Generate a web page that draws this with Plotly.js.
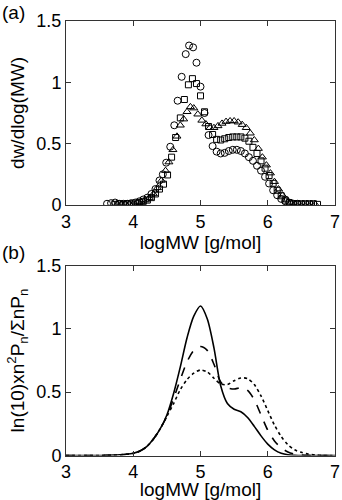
<!DOCTYPE html>
<html>
<head>
<meta charset="utf-8">
<script src="https://cdn.plot.ly/plotly-3.0.1.min.js"></script>
<style>html,body{margin:0;padding:0;background:#fff;}#chart{width:342px;height:500px;}</style>
</head>
<body>
<div id="chart"></div>
<script>
// ---- Panel (a): measured distributions ----
const circX = [3.61,3.67,3.73,3.79,3.85,3.91,3.97,4.03,4.09,4.15,4.21,4.27,4.33,4.39,4.44,4.49,4.55,4.61,4.66,4.72,4.78,4.83,4.89,4.94,5.00,5.06,5.12,5.18,5.24,5.30,5.36,5.42,5.48,5.54,5.60,5.66,5.72,5.78,5.84,5.90,5.96,6.02,6.08,6.14,6.20,6.26,6.32,6.38,6.44];
const circY = [0.01,0.015,0.02,0.01,0.01,0.01,0.015,0.02,0.03,0.045,0.06,0.09,0.13,0.2,0.25,0.345,0.475,0.65,0.85,1.045,1.23,1.30,1.285,1.16,0.965,0.75,0.57,0.48,0.435,0.42,0.425,0.44,0.45,0.45,0.44,0.42,0.39,0.36,0.32,0.28,0.23,0.175,0.12,0.08,0.05,0.03,0.02,0.01,0.01];

const sqX = [3.73,3.79,3.85,3.91,3.97,4.03,4.09,4.15,4.21,4.27,4.33,4.39,4.45,4.51,4.57,4.63,4.70,4.76,4.82,4.88,4.94,5.00,5.06,5.12,5.18,5.24,5.30,5.36,5.42,5.48,5.54,5.60,5.66,5.72,5.78,5.84,5.90,5.96,6.02,6.08,6.14,6.20,6.26,6.32,6.38,6.44,6.50,6.56,6.62,6.68,6.74];
const sqY = [0.005,0.01,0.005,0.01,0.01,0.015,0.02,0.03,0.04,0.06,0.09,0.13,0.17,0.245,0.39,0.55,0.71,0.86,0.98,1.03,0.99,0.89,0.76,0.64,0.575,0.535,0.53,0.54,0.55,0.555,0.555,0.555,0.545,0.52,0.47,0.42,0.36,0.30,0.24,0.177,0.12,0.075,0.04,0.02,0.01,0.01,0.01,0.01,0.01,0.01,0.005];

const triX = [3.76,3.82,3.88,3.94,4.00,4.06,4.12,4.18,4.24,4.30,4.36,4.42,4.48,4.53,4.59,4.65,4.70,4.75,4.80,4.85,4.90,4.96,5.02,5.08,5.14,5.20,5.26,5.32,5.38,5.44,5.50,5.56,5.62,5.68,5.74,5.80,5.86,5.92,5.98,6.04,6.10,6.16,6.22,6.28,6.34,6.40,6.46,6.52,6.58,6.64,6.70];
const triY = [0.005,0.005,0.01,0.01,0.01,0.02,0.025,0.04,0.06,0.09,0.14,0.2,0.28,0.35,0.45,0.56,0.65,0.70,0.76,0.80,0.79,0.74,0.69,0.66,0.63,0.63,0.645,0.665,0.68,0.685,0.685,0.675,0.655,0.63,0.585,0.53,0.46,0.39,0.325,0.26,0.19,0.13,0.08,0.045,0.02,0.01,0.01,0.01,0.01,0.01,0.01];

// ---- Panel (b): model distributions ----
const modelX = [3.0,3.1,3.2,3.3,3.4,3.5,3.6,3.7,3.8,3.9,4.0,4.1,4.2,4.3,4.4,4.5,4.6,4.7,4.8,4.9,5.0,5.1,5.2,5.3,5.4,5.5,5.6,5.7,5.8,5.9,6.0,6.1,6.2,6.3,6.4,6.5,6.6,6.7,6.8,6.9,7.0];
const solidY = [0,0,0,0,0,0,0.001,0.003,0.006,0.01,0.018,0.035,0.07,0.13,0.21,0.32,0.49,0.7,0.93,1.1,1.18,1.08,0.85,0.55,0.41,0.365,0.345,0.3,0.23,0.155,0.09,0.045,0.018,0.006,0.002,0,0,0,0,0,0];
const dashY  = [0,0,0,0,0,0,0.001,0.003,0.006,0.01,0.018,0.035,0.07,0.13,0.21,0.31,0.45,0.6,0.74,0.83,0.86,0.83,0.72,0.58,0.535,0.525,0.535,0.515,0.44,0.32,0.2,0.115,0.06,0.028,0.01,0.004,0.001,0,0,0,0];
const dotY   = [0,0,0,0,0,0,0.001,0.003,0.006,0.01,0.018,0.035,0.07,0.13,0.21,0.31,0.41,0.52,0.6,0.65,0.675,0.66,0.61,0.565,0.56,0.59,0.612,0.607,0.56,0.47,0.355,0.24,0.15,0.085,0.045,0.025,0.012,0.005,0.001,0,0];

const xTickVals = [3,4,5,6,7];
const yTickVals = [0,0.5,1,1.5];
const yTickText = ['0','0.5','1','1.5'];

const FONT = 'Liberation Sans, Arial, sans-serif';
const ink = '#000';

function mk(x, y, sym, size) {
  return {x: x, y: y, type: 'scatter', mode: 'markers', xaxis: 'x', yaxis: 'y',
    marker: {symbol: sym, size: size, color: ink, line: {color: ink, width: 1}},
    showlegend: false, hoverinfo: 'skip'};
}
function ln(y, dash) {
  return {x: modelX, y: y, type: 'scatter', mode: 'lines', xaxis: 'x2', yaxis: 'y2',
    line: {color: ink, width: 1.6, dash: dash, shape: 'spline', smoothing: 0.8},
    showlegend: false, hoverinfo: 'skip'};
}

const data = [
  mk(circX, circY, 'circle-open', 7),
  mk(sqX, sqY, 'square-open', 6),
  mk(triX, triY, 'triangle-up-open', 7),
  ln(dotY, 'dot'),
  ln(dashY, 'dash'),
  ln(solidY, 'solid')
];

function xa(anchor) {
  return {domain: [66/342, 335/342], range: [3, 7], anchor: anchor,
    tickvals: xTickVals, ticktext: xTickVals.map(String),
    ticks: 'inside', ticklen: 5, tickcolor: '#333', mirror: 'ticks',
    showline: true, linecolor: '#333', linewidth: 1, showgrid: false, zeroline: false,
    tickfont: {family: FONT, size: 18, color: ink},
    title: {text: 'logMW [g/mol]', font: {family: FONT, size: 19, color: ink}, standoff: 0}};
}
function ya(anchor, dom, title, sz) {
  return {domain: dom, range: [0, 1.5], anchor: anchor,
    tickvals: yTickVals, ticktext: yTickText,
    ticks: 'inside', ticklen: 5, tickcolor: '#333', mirror: 'ticks',
    showline: true, linecolor: '#333', linewidth: 1, showgrid: false, zeroline: false,
    tickfont: {family: FONT, size: 18, color: ink},
    title: {text: title, font: {family: FONT, size: sz, color: ink}, standoff: 6}};
}

const layout = {
  width: 342, height: 500,
  margin: {l: 0, r: 0, t: 0, b: 0},
  paper_bgcolor: '#fff', plot_bgcolor: '#fff',
  font: {family: FONT, color: ink},
  xaxis: xa('y'),
  yaxis: ya('x', [(500-205)/500, (500-21)/500], 'dw/dlog(MW)', 19),
  xaxis2: xa('y2'),
  yaxis2: ya('x2', [(500-455.5)/500, (500-265.5)/500], 'ln(10)xn<sup>2</sup>P<sub>n</sub>/ΣnP<sub>n</sub>', 19),
  annotations: [
    {text: '(a)', xref: 'paper', yref: 'paper', x: 0, y: 1, xanchor: 'left', yanchor: 'top', showarrow: false, font: {family: FONT, size: 19, color: ink}},
    {text: '(b)', xref: 'paper', yref: 'paper', x: 0, y: (500-252)/500, xanchor: 'left', yanchor: 'middle', showarrow: false, font: {family: FONT, size: 19, color: ink}}
  ]
};

Plotly.newPlot('chart', data, layout, {staticPlot: true, displayModeBar: false});
</script>
</body>
</html>
